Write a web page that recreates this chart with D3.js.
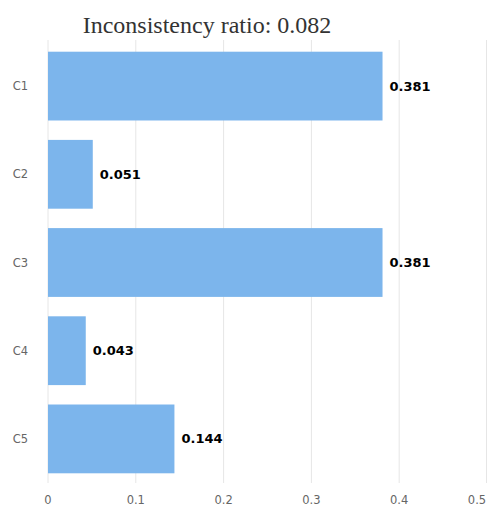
<!DOCTYPE html>
<html><head><meta charset="utf-8">
<script src="https://cdn.jsdelivr.net/npm/d3@7"></script>
<style>body{margin:0;background:#fff}</style>
</head><body>
<script>
const categories = ["C1","C2","C3","C4","C5"];
const values = [0.381,0.051,0.381,0.043,0.144];
const xTicks = [0,0.1,0.2,0.3,0.4,0.5];
const title = "Inconsistency ratio: 0.082";

const W=487,H=509;
const svg=d3.select("body").append("svg").attr("width",W).attr("height",H);
const x=d3.scaleLinear().domain([0,0.5]).range([48,487]);
const y=d3.scaleBand().domain(categories).range([42,483]).paddingInner(0.22).paddingOuter(0.11);

svg.append("text").attr("x",207).attr("y",33).attr("text-anchor","middle")
  .attr("font-family","Liberation Serif, Times New Roman, serif").attr("font-size",24).attr("fill","#333")
  .text(title);

svg.selectAll("line.grid").data(xTicks).join("line").attr("class","grid")
  .attr("x1",d=>Math.min(x(d),486.5)).attr("x2",d=>Math.min(x(d),486.5)).attr("y1",40).attr("y2",483)
  .attr("stroke","#e6e6e6").attr("stroke-width",1);

svg.selectAll("rect.bar").data(values).join("rect").attr("class","bar")
  .attr("x",x(0)).attr("y",(d,i)=>y(categories[i])).attr("width",d=>x(d)-x(0)).attr("height",y.bandwidth())
  .attr("fill","#7cb5ec");

svg.selectAll("text.val").data(values).join("text").attr("class","val")
  .attr("x",d=>x(d)+7).attr("y",(d,i)=>y(categories[i])+y.bandwidth()/2).attr("dy","0.35em")
  .attr("font-family","DejaVu Sans, sans-serif").attr("font-weight","bold").attr("font-size",13).attr("fill","#000")
  .text(d=>d.toFixed(3));

svg.selectAll("text.cat").data(categories).join("text").attr("class","cat")
  .attr("x",28).attr("y",d=>y(d)+y.bandwidth()/2).attr("dy","0.35em").attr("text-anchor","end")
  .attr("font-family","DejaVu Sans, sans-serif").attr("font-size",11.5).attr("fill","#666")
  .text(d=>d);

svg.selectAll("text.xt").data(xTicks).join("text").attr("class","xt")
  .attr("x",d=>d===0.5?x(d)-10:x(d)).attr("y",504).attr("text-anchor","middle")
  .attr("font-family","DejaVu Sans, sans-serif").attr("font-size",11.5).attr("fill","#666")
  .text(d=>d3.format("")(d));
</script>
</body></html>
